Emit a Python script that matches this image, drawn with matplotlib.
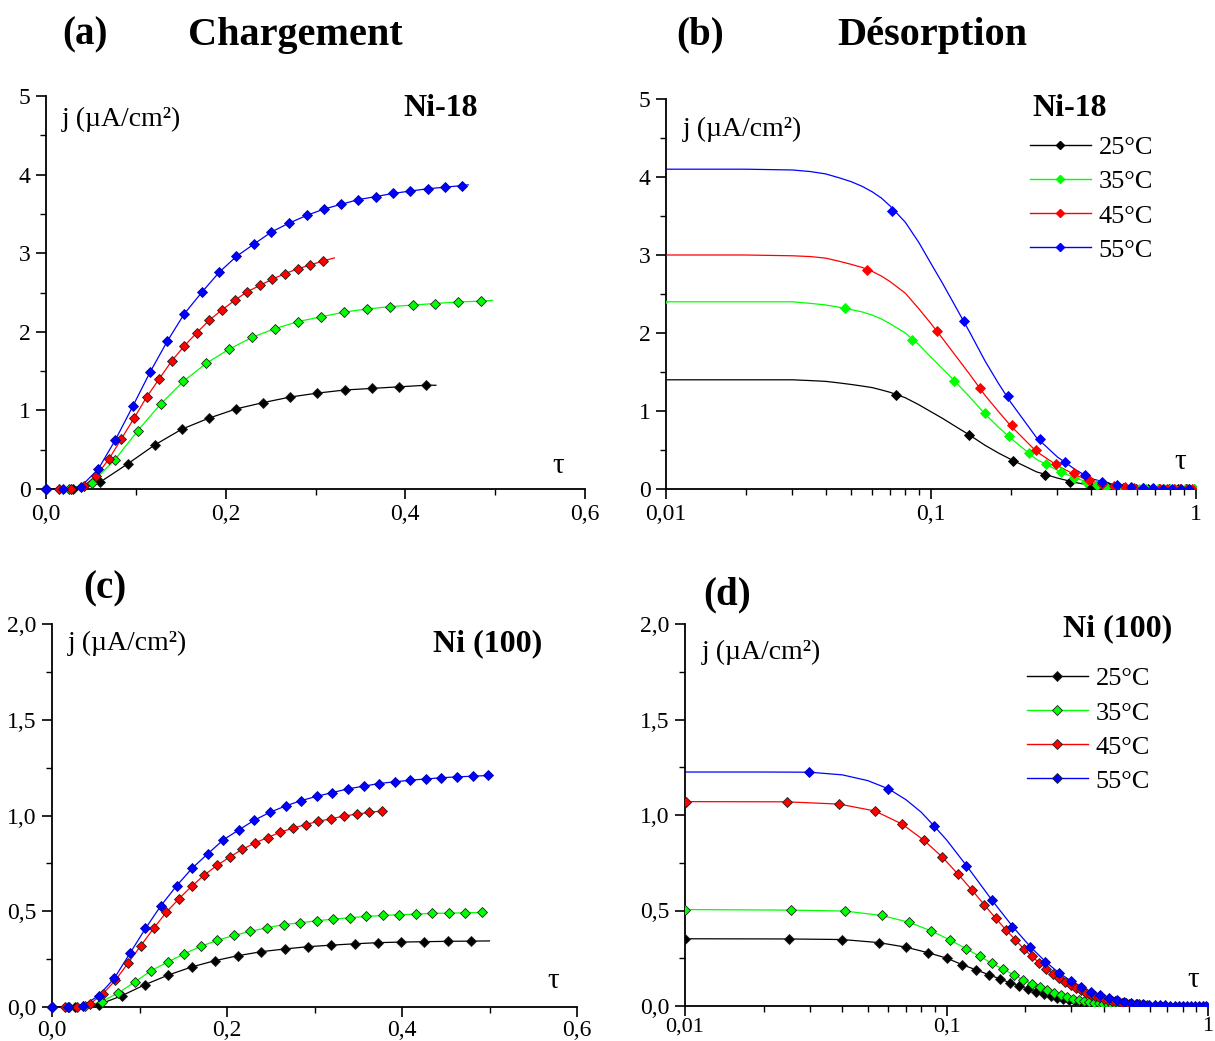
import matplotlib
matplotlib.use('Agg')
import matplotlib.pyplot as plt
from matplotlib.lines import Line2D
from matplotlib.ticker import MultipleLocator, FixedLocator, FuncFormatter, LogLocator, NullFormatter

plt.rcParams['font.family'] = ['Liberation Serif', 'DejaVu Serif']

W, H = 1215, 1041
labels = ['25°C', '35°C', '45°C', '55°C']
colors = ['#000000', '#00ff00', '#ff0000', '#0000ff']

# ---- (a) Chargement, Ni-18 : markers + end of fitted line
a_x = [
    [0.0, 0.030, 0.0605, 0.091, 0.121, 0.151, 0.181, 0.212, 0.242, 0.272, 0.302, 0.333, 0.363, 0.393, 0.423],
    [0.0, 0.0255, 0.051, 0.0765, 0.102, 0.1275, 0.153, 0.1785, 0.204, 0.2295, 0.255, 0.2805, 0.306, 0.3315,
     0.357, 0.3825, 0.408, 0.4335, 0.459, 0.4845],
    [0.0, 0.014, 0.028, 0.042, 0.056, 0.070, 0.084, 0.098, 0.112, 0.126, 0.140, 0.154, 0.168, 0.182, 0.196,
     0.210, 0.224, 0.238, 0.252, 0.266, 0.280, 0.294, 0.308],
    [0.0, 0.0193, 0.0386, 0.058, 0.077, 0.0965, 0.116, 0.135, 0.154, 0.174, 0.193, 0.212, 0.232, 0.251, 0.270,
     0.290, 0.309, 0.328, 0.347, 0.367, 0.386, 0.405, 0.425, 0.444, 0.463],
]
a_y = [
    [0.0, 0.0, 0.09, 0.32, 0.56, 0.76, 0.90, 1.02, 1.10, 1.17, 1.22, 1.26, 1.28, 1.30, 1.32],
    [0.0, 0.0, 0.08, 0.37, 0.74, 1.08, 1.37, 1.60, 1.78, 1.93, 2.04, 2.13, 2.19, 2.25, 2.29, 2.32, 2.34, 2.36,
     2.38, 2.39],
    [0.0, 0.0, 0.0, 0.04, 0.17, 0.38, 0.64, 0.90, 1.17, 1.40, 1.63, 1.82, 1.99, 2.15, 2.28, 2.40, 2.51, 2.59,
     2.67, 2.74, 2.80, 2.85, 2.90],
    [0.0, 0.0, 0.03, 0.25, 0.62, 1.05, 1.49, 1.88, 2.23, 2.51, 2.76, 2.96, 3.12, 3.27, 3.38, 3.48, 3.56, 3.62,
     3.68, 3.72, 3.76, 3.79, 3.82, 3.84, 3.86],
]
a_end_x = [0.434, 0.497, 0.321, 0.470]
a_end_y = [1.32, 2.40, 2.94, 3.87]

# ---- (b) Désorption, Ni-18
b_line_x = [0.01, 0.02, 0.03, 0.035, 0.04, 0.045, 0.05, 0.055, 0.06, 0.065, 0.07, 0.08, 0.09, 0.10, 0.11,
            0.12, 0.14, 0.16, 0.18, 0.20, 0.25, 0.30, 0.35, 0.40, 0.50, 0.60, 0.80, 1.00]
b_line_y = [
    [1.40, 1.40, 1.40, 1.39, 1.38, 1.36, 1.34, 1.32, 1.30, 1.27, 1.24, 1.17, 1.08, 0.99, 0.91, 0.83, 0.69,
     0.56, 0.46, 0.38, 0.22, 0.14, 0.084, 0.046, 0.017, 0.006, 0.001, 0.0],
    [2.40, 2.40, 2.40, 2.38, 2.36, 2.33, 2.30, 2.27, 2.23, 2.18, 2.12, 2.00, 1.85, 1.69, 1.55, 1.42, 1.18,
     0.96, 0.79, 0.65, 0.38, 0.24, 0.14, 0.08, 0.029, 0.01, 0.001, 0.0],
    [3.00, 3.00, 2.99, 2.98, 2.96, 2.92, 2.88, 2.84, 2.79, 2.73, 2.66, 2.51, 2.31, 2.12, 1.94, 1.77, 1.47,
     1.20, 0.99, 0.81, 0.48, 0.30, 0.18, 0.10, 0.036, 0.012, 0.0015, 0.0],
    [4.10, 4.10, 4.09, 4.07, 4.04, 3.99, 3.94, 3.88, 3.81, 3.73, 3.63, 3.42, 3.16, 2.89, 2.65, 2.42, 2.01,
     1.64, 1.35, 1.11, 0.66, 0.41, 0.25, 0.135, 0.05, 0.016, 0.002, 0.0],
]
b_x = [
    [0.0092, 0.074, 0.139, 0.204, 0.269, 0.334, 0.399, 0.464, 0.529, 0.594, 0.659, 0.724, 0.789, 0.854,
     0.919, 0.984],
    [0.0097, 0.0474, 0.0848, 0.1222, 0.1596, 0.197, 0.2344, 0.2718, 0.3092, 0.3466, 0.384, 0.4214, 0.4588,
     0.4962, 0.5336, 0.571, 0.6084, 0.6458, 0.6832, 0.7206, 0.758, 0.7954, 0.8328, 0.8702, 0.9076, 0.945,
     0.9824],
    [0.0096, 0.0574, 0.1054, 0.1534, 0.2014, 0.2494, 0.2974, 0.3454, 0.3934, 0.4414, 0.4894, 0.5374, 0.5854,
     0.6334, 0.6814, 0.7294, 0.7774, 0.8254, 0.8734, 0.9214, 0.9694],
    [0.0096, 0.0712, 0.1332, 0.1952, 0.2572, 0.3192, 0.3812, 0.4432, 0.5052, 0.5672, 0.6292, 0.6912, 0.7532,
     0.8152, 0.8772, 0.9392],
]
b_y = [
    [1.40, 1.20, 0.69, 0.36, 0.18, 0.09, 0.04, 0.02, 0.01, 0.005, 0.003, 0.002, 0.001, 0.0, 0.0, 0.0],
    [2.40, 2.32, 1.91, 1.39, 0.97, 0.675, 0.46, 0.32, 0.22, 0.14, 0.09, 0.05, 0.03, 0.02, 0.01, 0.01, 0.005,
     0.003, 0.002, 0.001, 0.0, 0.0, 0.0, 0.0, 0.0, 0.0, 0.0],
    [3.00, 2.81, 2.02, 1.30, 0.82, 0.50, 0.32, 0.20, 0.12, 0.07, 0.04, 0.025, 0.015, 0.01, 0.005, 0.0, 0.0,
     0.0, 0.0, 0.0, 0.0],
    [4.10, 3.57, 2.15, 1.19, 0.64, 0.35, 0.18, 0.09, 0.05, 0.03, 0.015, 0.008, 0.004, 0.002, 0.001, 0.0],
]

# ---- (c) Chargement, Ni (100)
c_x = [
    [0.0, 0.0266, 0.0532, 0.0798, 0.1064, 0.133, 0.1596, 0.1862, 0.2128, 0.2394, 0.266, 0.2926, 0.3192,
     0.3458, 0.3724, 0.399, 0.4256, 0.4522, 0.4788],
    [0.0, 0.0189, 0.0378, 0.0567, 0.0756, 0.0945, 0.1134, 0.1323, 0.1512, 0.1701, 0.189, 0.2079, 0.2268,
     0.2457, 0.2646, 0.2835, 0.3024, 0.3213, 0.3402, 0.3591, 0.378, 0.3969, 0.4158, 0.4347, 0.4536, 0.4725,
     0.4914],
    [0.0, 0.0145, 0.029, 0.0435, 0.058, 0.0725, 0.087, 0.1015, 0.116, 0.1305, 0.145, 0.1595, 0.174, 0.1885,
     0.203, 0.2175, 0.232, 0.2465, 0.261, 0.2755, 0.29, 0.3045, 0.319, 0.3335, 0.348, 0.3625, 0.377],
    [0.0, 0.0178, 0.0356, 0.0534, 0.0712, 0.089, 0.1068, 0.1246, 0.1424, 0.1602, 0.178, 0.1958, 0.2136,
     0.2314, 0.2492, 0.267, 0.2848, 0.3026, 0.3204, 0.3382, 0.356, 0.3738, 0.3916, 0.4094, 0.4272, 0.445,
     0.4628, 0.4806, 0.4984],
]
c_y = [
    [0.0, 0.0, 0.012, 0.059, 0.117, 0.167, 0.209, 0.242, 0.268, 0.289, 0.303, 0.315, 0.323, 0.330, 0.336,
     0.339, 0.341, 0.343, 0.344],
    [0.0, 0.0, 0.003, 0.028, 0.073, 0.13, 0.19, 0.235, 0.278, 0.317, 0.348, 0.374, 0.395, 0.414, 0.43, 0.44,
     0.45, 0.459, 0.466, 0.473, 0.478, 0.482, 0.485, 0.489, 0.49, 0.492, 0.494],
    [0.0, 0.0, 0.0, 0.017, 0.068, 0.14, 0.23, 0.32, 0.41, 0.494, 0.565, 0.63, 0.689, 0.739, 0.783, 0.823,
     0.857, 0.885, 0.913, 0.934, 0.953, 0.970, 0.983, 0.997, 1.007, 1.016, 1.024],
    [0.0, 0.0, 0.007, 0.06, 0.15, 0.28, 0.41, 0.53, 0.633, 0.725, 0.80, 0.873, 0.925, 0.976, 1.017, 1.05,
     1.078, 1.10, 1.12, 1.139, 1.153, 1.167, 1.176, 1.184, 1.191, 1.197, 1.202, 1.205, 1.209],
]
c_end_x = [0.500, 0.496, 0.377, 0.500]
c_end_y = [0.345, 0.494, 1.024, 1.209]

# ---- (d) Désorption, Ni (100)
d_x = [
    [0.010, 0.025, 0.040, 0.055, 0.070, 0.085, 0.100, 0.115, 0.130, 0.145, 0.160, 0.175, 0.190, 0.205, 0.220,
     0.235, 0.250, 0.265, 0.280, 0.295, 0.310, 0.325, 0.340, 0.355, 0.370, 0.385, 0.400, 0.415, 0.430, 0.445,
     0.460],
    [0.0100, 0.0255, 0.0410, 0.0565, 0.0720, 0.0875, 0.1030, 0.1185, 0.1340, 0.1495, 0.1650, 0.1805, 0.1960,
     0.2115, 0.2270, 0.2425, 0.2580, 0.2735, 0.2890, 0.3045, 0.3200, 0.3355, 0.3510, 0.3665, 0.3820, 0.3975,
     0.4130, 0.4285, 0.4440, 0.4595, 0.4750, 0.4905],
    [0.0101, 0.0245, 0.0389, 0.0533, 0.0677, 0.0821, 0.0965, 0.1109, 0.1253, 0.1397, 0.1541, 0.1685, 0.1829,
     0.1973, 0.2117, 0.2261, 0.2405, 0.2549, 0.2693, 0.2837, 0.2981, 0.3125, 0.3269, 0.3413, 0.3557, 0.3701,
     0.3845, 0.3989, 0.4133, 0.4277, 0.4421, 0.4565, 0.4709, 0.4853, 0.4997, 0.5141, 0.5285, 0.5429, 0.5573,
     0.5717, 0.5861],
    [0.0298, 0.0596, 0.0894, 0.1192, 0.1490, 0.1788, 0.2086, 0.2384, 0.2682, 0.2980, 0.3278, 0.3576, 0.3874,
     0.4172, 0.4470, 0.4768, 0.5066, 0.5364, 0.5662, 0.5960, 0.6258, 0.6556, 0.6854, 0.7152, 0.7450, 0.7748,
     0.8046, 0.8344, 0.8642, 0.8940, 0.9238, 0.9536, 0.9834],
]
d_y = [
    [0.352, 0.351, 0.348, 0.332, 0.308, 0.279, 0.251, 0.216, 0.189, 0.164, 0.142, 0.121, 0.104, 0.088, 0.075,
     0.063, 0.053, 0.044, 0.037, 0.030, 0.025, 0.020, 0.016, 0.013, 0.010, 0.008, 0.006, 0.005, 0.004, 0.003,
     0.002],
    [0.505, 0.502, 0.497, 0.474, 0.438, 0.393, 0.346, 0.301, 0.260, 0.223, 0.192, 0.164, 0.138, 0.117, 0.098,
     0.082, 0.068, 0.057, 0.047, 0.039, 0.032, 0.026, 0.021, 0.017, 0.014, 0.011, 0.009, 0.007, 0.005, 0.004,
     0.003, 0.002],
    [1.070, 1.069, 1.057, 1.021, 0.952, 0.867, 0.779, 0.689, 0.606, 0.529, 0.460, 0.400, 0.348, 0.300, 0.260,
     0.227, 0.196, 0.170, 0.147, 0.127, 0.110, 0.095, 0.082, 0.070, 0.060, 0.052, 0.045, 0.038, 0.033, 0.028,
     0.024, 0.020, 0.017, 0.015, 0.013, 0.011, 0.009, 0.008, 0.007, 0.006, 0.005],
    [1.225, 1.138, 0.943, 0.735, 0.555, 0.415, 0.311, 0.232, 0.175, 0.131, 0.100, 0.075, 0.056, 0.042, 0.031,
     0.023, 0.016, 0.012, 0.009, 0.007, 0.005, 0.004, 0.003, 0.002, 0.002, 0.001, 0.001, 0.001, 0.0, 0.0, 0.0,
     0.0, 0.0],
]
d_blue_line_x = [0.01, 0.02, 0.03, 0.04, 0.05, 0.06, 0.07, 0.08, 0.09, 0.10, 0.12, 0.15, 0.18, 0.21, 0.24,
                 0.27, 0.30, 0.35, 0.40, 0.50, 0.60, 0.80, 1.00]
d_blue_line_y = [1.225, 1.225, 1.224, 1.21, 1.18, 1.137, 1.08, 1.015, 0.94, 0.87, 0.73, 0.55, 0.412, 0.308,
                 0.23, 0.172, 0.13, 0.08, 0.048, 0.017, 0.006, 0.001, 0.0]


def fx(px):
    return px / W


def fy(py):
    return 1 - py / H


def make_axes(left, right, top, bottom):
    return fig.add_axes([fx(left), fy(bottom), (right - left) / W, (bottom - top) / H])


def style_axes(ax, pad=4):
    for s in ['top', 'right']:
        ax.spines[s].set_visible(False)
    for s in ['left', 'bottom']:
        ax.spines[s].set_linewidth(1.3)
    ax.tick_params(which='major', direction='out', length=7, width=1.2, labelsize=17, pad=4)
    ax.tick_params(which='minor', direction='out', length=4, width=1.0)
    ax.tick_params(axis='x', which='major', pad=pad)


def comma(fmt):
    return FuncFormatter(lambda v, p: (fmt % v).replace('.', ','))


def log_label(v, p):
    return {0.01: '0,01', 0.1: '0,1', 1.0: '1'}.get(round(v, 4), '')


def marker_edge(i, dark):
    if not dark:
        return colors[i]
    return '#0000aa' if i == 3 else '#202020'


fig = plt.figure(figsize=(W / 100, H / 100), dpi=100)

# (a)
ax = make_axes(46, 585, 96, 489)
for i in range(4):
    ax.plot(a_x[i] + [a_end_x[i]], a_y[i] + [a_end_y[i]], color=colors[i], lw=0.9, zorder=2)
    ax.plot(a_x[i], a_y[i], ls='none', marker='D', ms=5, color=colors[i],
            mec=marker_edge(i, True), mew=0.6, zorder=3, clip_on=False)
ax.set_xlim(0, 0.6)
ax.set_ylim(0, 5)
ax.xaxis.set_major_locator(MultipleLocator(0.2))
ax.xaxis.set_minor_locator(MultipleLocator(0.1))
ax.yaxis.set_major_locator(MultipleLocator(1))
ax.yaxis.set_minor_locator(MultipleLocator(0.5))
ax.xaxis.set_major_formatter(comma('%.1f'))
ax.yaxis.set_major_formatter(comma('%d'))
style_axes(ax)

# (b)
ax = make_axes(666, 1196, 99, 489)
for i in range(4):
    ax.plot(b_line_x, b_line_y[i], color=colors[i], lw=0.9, zorder=2)
    ax.plot(b_x[i], b_y[i], ls='none', marker='D', ms=5, color=colors[i],
            mec=marker_edge(i, False), mew=0.6, zorder=3)
ax.set_xscale('log')
ax.set_xlim(0.01, 1)
ax.set_ylim(0, 5)
ax.yaxis.set_major_locator(MultipleLocator(1))
ax.yaxis.set_minor_locator(MultipleLocator(0.5))
ax.yaxis.set_major_formatter(comma('%d'))
ax.xaxis.set_major_locator(FixedLocator([0.01, 0.1, 1]))
ax.xaxis.set_major_formatter(FuncFormatter(log_label))
ax.xaxis.set_minor_locator(LogLocator(base=10, subs=range(2, 10)))
ax.xaxis.set_minor_formatter(NullFormatter())
style_axes(ax)
handles = [Line2D([], [], color=colors[i], lw=1.0, marker='D', ms=4, mec=colors[i]) for i in range(4)]
ax.legend(handles, labels, loc='upper left', bbox_to_anchor=(fx(1030), fy(136)),
          bbox_transform=fig.transFigure, frameon=False, fontsize=19, handlelength=2.3,
          handletextpad=0.3, labelspacing=0.40, borderpad=0, borderaxespad=0, numpoints=1)

# (c)
ax = make_axes(52, 577, 624, 1007)
for i in range(4):
    ax.plot(c_x[i] + [c_end_x[i]], c_y[i] + [c_end_y[i]], color=colors[i], lw=0.9, zorder=2)
    ax.plot(c_x[i], c_y[i], ls='none', marker='D', ms=5, color=colors[i],
            mec=marker_edge(i, True), mew=0.6, zorder=3, clip_on=False)
ax.set_xlim(0, 0.6)
ax.set_ylim(0, 2)
ax.xaxis.set_major_locator(MultipleLocator(0.2))
ax.xaxis.set_minor_locator(MultipleLocator(0.1))
ax.yaxis.set_major_locator(MultipleLocator(0.5))
ax.yaxis.set_minor_locator(MultipleLocator(0.25))
ax.xaxis.set_major_formatter(comma('%.1f'))
ax.yaxis.set_major_formatter(comma('%.1f'))
style_axes(ax, pad=2)

# (d)
ax = make_axes(685, 1208, 624, 1006)
for i in range(3):
    ax.plot(d_x[i], d_y[i], color=colors[i], lw=0.9, zorder=2)
ax.plot(d_blue_line_x, d_blue_line_y, color=colors[3], lw=0.9, zorder=2)
for i in range(4):
    ax.plot(d_x[i], d_y[i], ls='none', marker='D', ms=5, color=colors[i],
            mec=marker_edge(i, True), mew=0.6, zorder=3)
ax.set_xscale('log')
ax.set_xlim(0.01, 1)
ax.set_ylim(0, 2)
ax.yaxis.set_major_locator(MultipleLocator(0.5))
ax.yaxis.set_minor_locator(MultipleLocator(0.25))
ax.yaxis.set_major_formatter(comma('%.1f'))
ax.xaxis.set_major_locator(FixedLocator([0.01, 0.1, 1]))
ax.xaxis.set_major_formatter(FuncFormatter(log_label))
ax.xaxis.set_minor_locator(LogLocator(base=10, subs=range(2, 10)))
ax.xaxis.set_minor_formatter(NullFormatter())
style_axes(ax, pad=1)
for t in ax.get_xticklabels():
    t.set_fontsize(16)
handles = [Line2D([], [], color=colors[i], lw=1.0, marker='D', ms=5, mec='#202020', mew=0.6)
           for i in range(4)]
ax.legend(handles, labels, loc='upper left', bbox_to_anchor=(fx(1027), fy(667)),
          bbox_transform=fig.transFigure, frameon=False, fontsize=19, handlelength=2.3,
          handletextpad=0.3, labelspacing=0.40, borderpad=0, borderaxespad=0, numpoints=1)

# titles and annotations
bold = dict(fontweight='bold', ha='center', va='center')
fig.text(fx(85), fy(35), '(a)', fontsize=28, **bold)
fig.text(fx(295), fy(35), 'Chargement', fontsize=29, **bold)
fig.text(fx(700), fy(35), '(b)', fontsize=28, **bold)
fig.text(fx(932), fy(35), 'Désorption', fontsize=29, **bold)
fig.text(fx(105), fy(589), '(c)', fontsize=28, **bold)
fig.text(fx(727), fy(595), '(d)', fontsize=28, **bold)

fig.text(fx(441), fy(109), 'Ni-18', fontsize=23, **bold)
fig.text(fx(1070), fy(109), 'Ni-18', fontsize=23, **bold)
fig.text(fx(488), fy(644), 'Ni (100)', fontsize=23, **bold)
fig.text(fx(1118), fy(629), 'Ni (100)', fontsize=23, **bold)

ylab = dict(fontsize=20, ha='left', va='center')
fig.text(fx(62), fy(119), 'j (µA/cm²)', **ylab)
fig.text(fx(683), fy(129), 'j (µA/cm²)', **ylab)
fig.text(fx(68), fy(643), 'j (µA/cm²)', **ylab)
fig.text(fx(702), fy(652), 'j (µA/cm²)', **ylab)

tau = dict(fontsize=21, ha='center', va='center')
fig.text(fx(558), fy(466), 'τ', **tau)
fig.text(fx(1180), fy(462), 'τ', **tau)
fig.text(fx(553), fy(981), 'τ', **tau)
fig.text(fx(1193), fy(980), 'τ', **tau)

fig.savefig('out.png', dpi=100)
